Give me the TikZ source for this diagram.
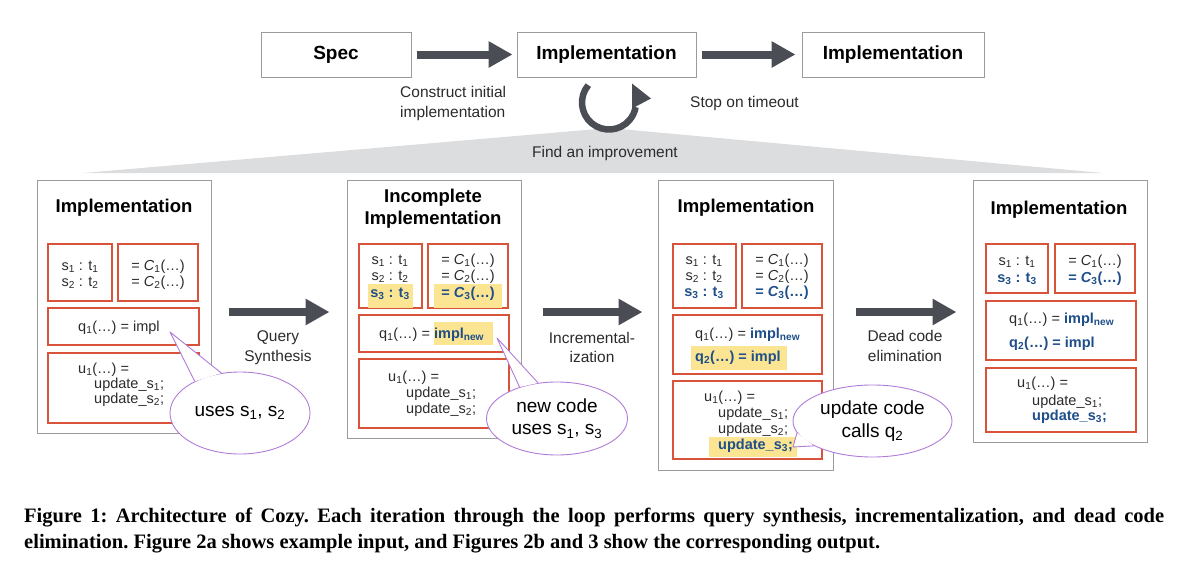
\documentclass[tikz,border=0pt]{standalone}
\usepackage{fontspec}
\setmainfont{Liberation Sans}
\newfontfamily\capfont{Liberation Serif}
\usepackage{xcolor}
\usepackage{tikz}
\usetikzlibrary{shapes,shapes.geometric,arrows.meta,calc,positioning}
\definecolor{boxgray}{HTML}{9B9B9B}
\definecolor{cellred}{HTML}{D9533B}
\definecolor{hiyellow}{HTML}{FBE592}
\definecolor{newblue}{HTML}{1F4F8A}
\definecolor{arrowgray}{HTML}{4A4E54}
\definecolor{wedgegray}{HTML}{DCDDDF}
\definecolor{bubviolet}{HTML}{B07CD8}
\definecolor{ink}{HTML}{2B2B2B}
\tikzset{
  topbox/.style={draw=boxgray, line width=1pt, minimum height=45pt, font=\fontsize{19}{22}\selectfont\bfseries},
  panel/.style={draw=boxgray, line width=1pt, fill=white},
  ttl/.style={font=\fontsize{18.5}{22}\selectfont\bfseries, align=center, inner sep=0pt},
  cell/.style={draw=cellred, line width=1.1pt, inner sep=0pt},
  hl/.style={fill=hiyellow, inner sep=0pt},
  codetxt/.style={font=\fontsize{14.5}{16}\selectfont, text=ink, inner sep=0pt},
  newtxt/.style={codetxt, font=\fontsize{14.5}{16}\selectfont\bfseries, text=newblue},
  lbl/.style={font=\fontsize{15.5}{19.5}\selectfont, text=ink, inner sep=0pt, align=center},
  bigarrow/.style={draw=arrowgray, line width=8pt, -{Triangle[length=24pt,width=25pt]}},
  bubble/.style={ellipse, draw=bubviolet, line width=0.9pt, fill=white, inner sep=0pt, align=center, font=\fontsize{19}{22.5}\selectfont},
  bubtail/.style={draw=bubviolet, line width=0.9pt, line join=round}
}
\newcommand{\nw}[1]{\textbf{\textcolor{newblue}{#1}}}

\begin{document}
\begin{tikzpicture}[x=1pt, y=-1pt]
  \useasboundingbox (0,0) rectangle (1200,570);
  % top row
  \node[topbox, minimum width=150pt] (spec) at (336,54.5) {Spec};
  \node[topbox, minimum width=179pt] (impl) at (606.5,54.5) {Implementation};
  \node[topbox, minimum width=182pt] (final) at (893,54.5) {Implementation};
  \draw[bigarrow, shorten <=5pt, shorten >=4pt] (spec) -- (impl);
  \draw[bigarrow, shorten <=5pt, shorten >=6pt] (impl) -- (final);
  \node[lbl, anchor=west, align=left] (init) at (400,103.5) {Construct initial\\implementation};
  \node[lbl, anchor=west] (stop) at (690,103) {Stop on timeout};
  % zoom wedge and loop
  \fill[wedgegray] (83,173) -- (609,128) -- (1103,173) -- cycle;
  \coordinate (lc) at ($(impl.south)+(2.5,25)$);
  \draw[arrowgray, line width=6.5pt] ($(lc)+(220:27)$) arc[start angle=220, end angle=10, radius=27];
  \fill[arrowgray] ($(lc)+(23,-19)$) -- ($(lc)+(42,-4)$) -- ($(lc)+(23,6)$) -- cycle;
  \node[lbl] (find) at (605,153) {Find an improvement};

  % panel 1
  \node[panel, minimum width=174pt, minimum height=253pt] (p1) at (124,306.5) {};
  \node[ttl] (t1) at (124,208) {Implementation};
  \node[cell, minimum width=64pt, minimum height=57pt] (p1s) at (80,272.5) {};
  \node[cell, minimum width=80pt, minimum height=57pt] (p1c) at (158,272.5) {};
  \node[cell, minimum width=151pt, minimum height=37pt] (p1q) at (123.5,326.5) {};
  \node[cell, minimum width=151pt, minimum height=70pt] (p1u) at (123.5,388) {};
  \node[codetxt] (p1s1) at (80,267) {s\textsubscript{1} : t\textsubscript{1}};
  \node[codetxt] (p1s2) at (80,283) {s\textsubscript{2} : t\textsubscript{2}};
  \node[codetxt] (p1c1) at (158,267) {= \textit{C}\textsubscript{1}(…)};
  \node[codetxt] (p1c2) at (158,283) {= \textit{C}\textsubscript{2}(…)};
  \node[codetxt, anchor=west] (p1q1) at (78,328) {q\textsubscript{1}(…) = impl};
  \node[codetxt, anchor=west] (p1u1) at (78,370) {u\textsubscript{1}(…) =};
  \node[codetxt, anchor=west] (p1u2) at (94,385) {update\_s\textsubscript{1};};
  \node[codetxt, anchor=west] (p1u3) at (94,400) {update\_s\textsubscript{2};};

  % panel 2
  \node[panel, minimum width=174pt, minimum height=258pt] (p2) at (434,309) {};
  \node[ttl] (t2) at (433,209) {Incomplete\\Implementation};
  \node[cell, minimum width=63pt, minimum height=64pt] (p2s) at (390.5,276) {};
  \node[cell, minimum width=80pt, minimum height=64pt] (p2c) at (468,276) {};
  \node[cell, minimum width=150pt, minimum height=37pt] (p2q) at (434,333.5) {};
  \node[cell, minimum width=150pt, minimum height=69pt] (p2u) at (434,393.5) {};
  \node[hl, minimum width=45pt, minimum height=24pt] (h2s) at (390.5,295.5) {};
  \node[hl, minimum width=68pt, minimum height=24pt] (h2c) at (468,295.5) {};
  \node[hl, minimum width=59pt, minimum height=23pt] (h2q) at (463.5,333.5) {};
  \node[codetxt] (p2s1) at (390,261) {s\textsubscript{1} : t\textsubscript{1}};
  \node[codetxt] (p2s2) at (390,277) {s\textsubscript{2} : t\textsubscript{2}};
  \node[newtxt] (p2s3) at (390,294) {s\textsubscript{3} : t\textsubscript{3}};
  \node[codetxt] (p2c1) at (468,261) {= \textit{C}\textsubscript{1}(…)};
  \node[codetxt] (p2c2) at (468,277) {= \textit{C}\textsubscript{2}(…)};
  \node[newtxt] (p2c3) at (468,294) {= \textit{C}\textsubscript{3}(…)};
  \node[codetxt, anchor=west] (p2q1) at (379,335) {q\textsubscript{1}(…) = \nw{impl\textsubscript{new}}};
  \node[codetxt, anchor=west] (p2u1) at (388,378) {u\textsubscript{1}(…) =};
  \node[codetxt, anchor=west] (p2u2) at (406,394) {update\_s\textsubscript{1};};
  \node[codetxt, anchor=west] (p2u3) at (406,410) {update\_s\textsubscript{2};};

  % panel 3
  \node[panel, minimum width=175pt, minimum height=290pt] (p3) at (745.5,325) {};
  \node[ttl] (t3) at (746,208) {Implementation};
  \node[cell, minimum width=63pt, minimum height=64pt] (p3s) at (704.5,276) {};
  \node[cell, minimum width=80pt, minimum height=64pt] (p3c) at (782,276) {};
  \node[cell, minimum width=149pt, minimum height=59pt] (p3q) at (747.5,344.5) {};
  \node[cell, minimum width=149pt, minimum height=78pt] (p3u) at (747.5,420) {};
  \node[hl, minimum width=96pt, minimum height=24pt] (h3q) at (739,358) {};
  \node[hl, minimum width=88pt, minimum height=20pt] (h3u) at (753,447) {};
  \node[codetxt] (p3s1) at (704,261) {s\textsubscript{1} : t\textsubscript{1}};
  \node[codetxt] (p3s2) at (704,277) {s\textsubscript{2} : t\textsubscript{2}};
  \node[newtxt] (p3s3) at (704,293) {s\textsubscript{3} : t\textsubscript{3}};
  \node[codetxt] (p3c1) at (782,261) {= \textit{C}\textsubscript{1}(…)};
  \node[codetxt] (p3c2) at (782,277) {= \textit{C}\textsubscript{2}(…)};
  \node[newtxt] (p3c3) at (782,293) {= \textit{C}\textsubscript{3}(…)};
  \node[codetxt, anchor=west] (p3q1) at (695,335) {q\textsubscript{1}(…) = \nw{impl\textsubscript{new}}};
  \node[newtxt, anchor=west] (p3q2) at (695,358) {q\textsubscript{2}(…) = impl};
  \node[codetxt, anchor=west] (p3u1) at (704,398) {u\textsubscript{1}(…) =};
  \node[codetxt, anchor=west] (p3u2) at (718,414) {update\_s\textsubscript{1};};
  \node[codetxt, anchor=west] (p3u3) at (718,430) {update\_s\textsubscript{2};};
  \node[newtxt, anchor=west] (p3u4) at (718,446) {update\_s\textsubscript{3};};

  % panel 4
  \node[panel, minimum width=174pt, minimum height=262pt] (p4) at (1060,311) {};
  \node[ttl] (t4) at (1059,210) {Implementation};
  \node[cell, minimum width=62pt, minimum height=49pt] (p4s) at (1017,268.5) {};
  \node[cell, minimum width=80pt, minimum height=49pt] (p4c) at (1095,268.5) {};
  \node[cell, minimum width=150pt, minimum height=59pt] (p4q) at (1061,330.5) {};
  \node[cell, minimum width=150pt, minimum height=64pt] (p4u) at (1061,400) {};
  \node[codetxt] (p4s1) at (1017,262) {s\textsubscript{1} : t\textsubscript{1}};
  \node[newtxt] (p4s3) at (1017,279) {s\textsubscript{3} : t\textsubscript{3}};
  \node[codetxt] (p4c1) at (1095,262) {= \textit{C}\textsubscript{1}(…)};
  \node[newtxt] (p4c3) at (1095,279) {= \textit{C}\textsubscript{3}(…)};
  \node[codetxt, anchor=west] (p4q1) at (1009,320) {q\textsubscript{1}(…) = \nw{impl\textsubscript{new}}};
  \node[newtxt, anchor=west] (p4q2) at (1009,344) {q\textsubscript{2}(…) = impl};
  \node[codetxt, anchor=west] (p4u1) at (1017,384) {u\textsubscript{1}(…) =};
  \node[codetxt, anchor=west] (p4u2) at (1032,402) {update\_s\textsubscript{1};};
  \node[newtxt, anchor=west] (p4u3) at (1032,417) {update\_s\textsubscript{3};};

  % steps between panels
  \coordinate (mid) at (0,312);
  \draw[bigarrow, shorten <=17pt, shorten >=17pt] (p1.east |- mid) -- (p2.west |- mid);
  \draw[bigarrow, shorten <=21pt, shorten >=15pt] (p2.east |- mid) -- (p3.west |- mid);
  \draw[bigarrow, shorten <=22pt, shorten >=16pt] (p3.east |- mid) -- (p4.west |- mid);
  \node[lbl] (qs) at (278,347.5) {Query\\Synthesis};
  \node[lbl] (inc) at (592,347.5) {Incremental-\\ization};
  \node[lbl] (dce) at (905,346) {Dead code\\elimination};

  % speech bubbles
  \node[bubble, minimum width=140pt, minimum height=82pt] (b1) at (240,413) {uses s\textsubscript{1}, s\textsubscript{2}};
  \coordinate (tip1) at (170,332);
  \fill[white] (b1.145) -- (tip1) -- (b1.115) -- cycle;
  \draw[bubtail] (b1.145) -- (tip1) -- (b1.115);
  \node[bubble, minimum width=141pt, minimum height=73pt] (b2) at (557,418.5) {new code\\uses s\textsubscript{1}, s\textsubscript{3}};
  \coordinate (tip2) at (497,338);
  \fill[white] (b2.140) -- (tip2) -- (b2.118) -- cycle;
  \draw[bubtail] (b2.140) -- (tip2) -- (b2.118);
  \node[bubble, minimum width=159pt, minimum height=72pt] (b3) at (872.5,421) {update code\\calls q\textsubscript{2}};
  \coordinate (tip3) at (793,447);
  \fill[white] (b3.189) -- (tip3) -- (b3.203) -- cycle;
  \draw[bubtail] (b3.189) -- (tip3) -- (b3.203);

  % caption
  \node[anchor=north west, text width=1140pt, align=justify, inner sep=0pt,
        font=\capfont\bfseries\fontsize{20.5}{26}\selectfont\frenchspacing] (cap) at (24,508)
    {Figure 1: Architecture of Cozy. Each iteration through the loop performs query synthesis, incrementalization, and dead code\linebreak elimination. Figure 2a shows example input, and Figures 2b and 3 show the corresponding output.};
\end{tikzpicture}
\end{document}
